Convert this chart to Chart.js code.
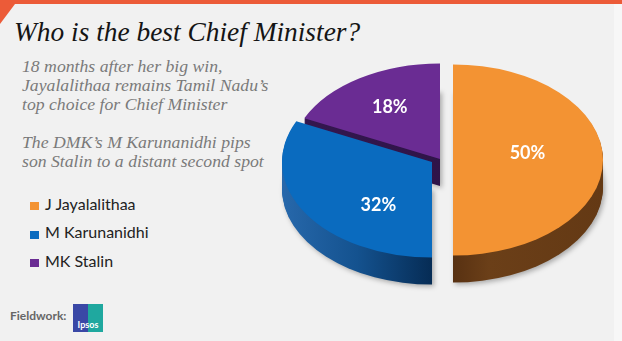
<!DOCTYPE html>
<html>
<head>
<meta charset="utf-8">
<script src="https://cdn.jsdelivr.net/npm/chart.js@4/dist/chart.umd.min.js"></script>
<style>
  html, body { margin: 0; padding: 0; }
  body {
    width: 622px; height: 341px; overflow: hidden; position: relative;
    background: #f1f1f1; font-family: Lato, sans-serif;
  }
  #topbar { position: absolute; left: 0; top: 0; width: 622px; height: 4px; background: #ec5b38; }
  #corner {
    position: absolute; left: 0; top: 0; width: 18px; height: 24px; background: #ec5b38;
    clip-path: polygon(0 0, 100% 0, 0 100%);
  }
  #edge { position: absolute; right: 0; top: 4px; width: 8px; height: 337px; background: #f7f7f7; }
  #title {
    position: absolute; left: 14px; top: 18.5px; white-space: nowrap;
    font: italic 27.4px/1 "Liberation Serif", serif; color: #151515;
  }
  #sub {
    position: absolute; left: 22px; top: 57px; white-space: nowrap;
    font: italic 17.7px/19px "Liberation Serif", serif; color: #7a7a7a;
  }
  .sw { position: absolute; left: 30px; width: 9px; height: 8px; }
  .lab { position: absolute; left: 45px; white-space: nowrap; font: 16px/16px Lato, sans-serif; color: #222; }
  #field {
    position: absolute; left: 10px; top: 310px;
    font: bold 12px/12px Lato, sans-serif; color: #666;
  }
  #logo {
    position: absolute; left: 73px; top: 304px; width: 30px; height: 28px;
    background: linear-gradient(90deg, #3a48a6 0 50%, #1fa89f 50% 100%);
    color: #fff; font: bold 9px/9px Lato, sans-serif; text-align: center;
  }
  #logo span { position: absolute; left: 0; right: 0; bottom: 3px; }
  #chartWrap { position: absolute; left: 270px; top: 0; width: 352px; height: 341px; }
</style>
</head>
<body>
<div id="topbar"></div>
<div id="corner"></div>
<div id="edge"></div>
<div id="title">Who is the best Chief Minister?</div>
<div id="sub">18 months after her big win,<br>Jayalalithaa remains Tamil Nadu’s<br>top choice for Chief Minister<br><br>The DMK’s M Karunanidhi pips<br>son Stalin to a distant second spot</div>
<div id="field">Fieldwork:</div>
<div id="logo"><span>Ipsos</span></div>
<div id="chartWrap"><canvas id="pieChart"></canvas></div>

<script>
const labels = ["J Jayalalithaa", "M Karunanidhi", "MK Stalin"];
const shares = [50, 32, 18];
const topColors = ["#f39333", "#0a6bbf", "#6a2c93"];

// 3d look
const SQUASH = 0.637;
const DEPTH = 27;
const explode = [[7, 0], [-14, 2], [-6, -1]];
const labelNudge = [[-8, -7], [16, 15], [-6, -7]];
const sideStops = [
  [[0.5, "#583112"], [0.62, "#6b3f18"], [1, "#643914"]],
  [[0, "#2768ab"], [0.25, "#14528f"], [0.5, "#062c55"], [1, "#062c55"]],
  [[0, "#34174f"], [1, "#2a1142"]]
];

// legend on the left
labels.forEach((name, i) => {
  const base = 210 + i * 28.5;
  const sw = document.createElement("div");
  sw.className = "sw";
  sw.style.top = (base - 8) + "px";
  sw.style.background = topColors[i];
  document.body.appendChild(sw);

  const lab = document.createElement("div");
  lab.className = "lab";
  lab.style.top = (base - 14.2) + "px";
  lab.textContent = name;
  document.body.appendChild(lab);
});

const pie3d = {
  id: "pie3d",
  afterDatasetUpdate(chart, args) {
    args.meta.data.forEach((arc, i) => {
      arc.x += explode[i][0];
      arc.y += explode[i][1] / SQUASH;
    });
  },
  beforeDatasetsDraw(chart) {
    const ctx = chart.ctx;
    const arcs = chart.getDatasetMeta(0).data;
    const cy = (chart.chartArea.top + chart.chartArea.bottom) / 2;
    ctx.save();
    ctx.translate(0, cy);
    ctx.scale(1, SQUASH);
    ctx.translate(0, -cy);

    for (let d = DEPTH; d >= 1; d--) {
      arcs.forEach((arc, i) => {
        const p = arc.getProps(["x", "y", "startAngle", "endAngle", "outerRadius"]);
        const g = ctx.createLinearGradient(p.x - p.outerRadius, 0, p.x + p.outerRadius, 0);
        sideStops[i].forEach(s => g.addColorStop(s[0], s[1]));
        ctx.save();
        if (d === DEPTH) {
          ctx.shadowColor = "rgba(0,0,0,0.3)";
          ctx.shadowBlur = 5;
          ctx.shadowOffsetX = 2;
          ctx.shadowOffsetY = 2;
        }
        ctx.fillStyle = g;
        ctx.beginPath();
        ctx.moveTo(p.x, p.y + d / SQUASH);
        ctx.arc(p.x, p.y + d / SQUASH, p.outerRadius, p.startAngle, p.endAngle);
        ctx.closePath();
        ctx.fill();
        ctx.restore();
      });
    }
  },
  afterDatasetsDraw(chart) {
    const ctx = chart.ctx;
    ctx.restore();

    const arcs = chart.getDatasetMeta(0).data;
    const cy = (chart.chartArea.top + chart.chartArea.bottom) / 2;
    ctx.save();
    ctx.fillStyle = "#ffffff";
    ctx.font = "bold 18px Lato, sans-serif";
    ctx.textAlign = "center";
    ctx.textBaseline = "middle";
    arcs.forEach((arc, i) => {
      const p = arc.getProps(["x", "y", "startAngle", "endAngle", "outerRadius"]);
      const mid = (p.startAngle + p.endAngle) / 2;
      const r = p.outerRadius * 0.55;
      const x = p.x + Math.cos(mid) * r + labelNudge[i][0];
      const y = cy + (p.y + Math.sin(mid) * r - cy) * SQUASH + labelNudge[i][1];
      ctx.fillText(shares[i] + "%", x, y);
    });
    ctx.restore();
  }
};

new Chart(document.getElementById("pieChart"), {
  type: "pie",
  data: {
    labels: labels,
    datasets: [{
      data: shares,
      backgroundColor: topColors,
      borderWidth: 0,
      hoverOffset: 0,
      clip: false
    }]
  },
  options: {
    responsive: true,
    maintainAspectRatio: false,
    animation: false,
    events: [],
    radius: 150,
    layout: { padding: { bottom: 21 } },
    plugins: {
      legend: { display: false },
      tooltip: { enabled: false }
    }
  },
  plugins: [pie3d]
});
</script>
</body>
</html>
